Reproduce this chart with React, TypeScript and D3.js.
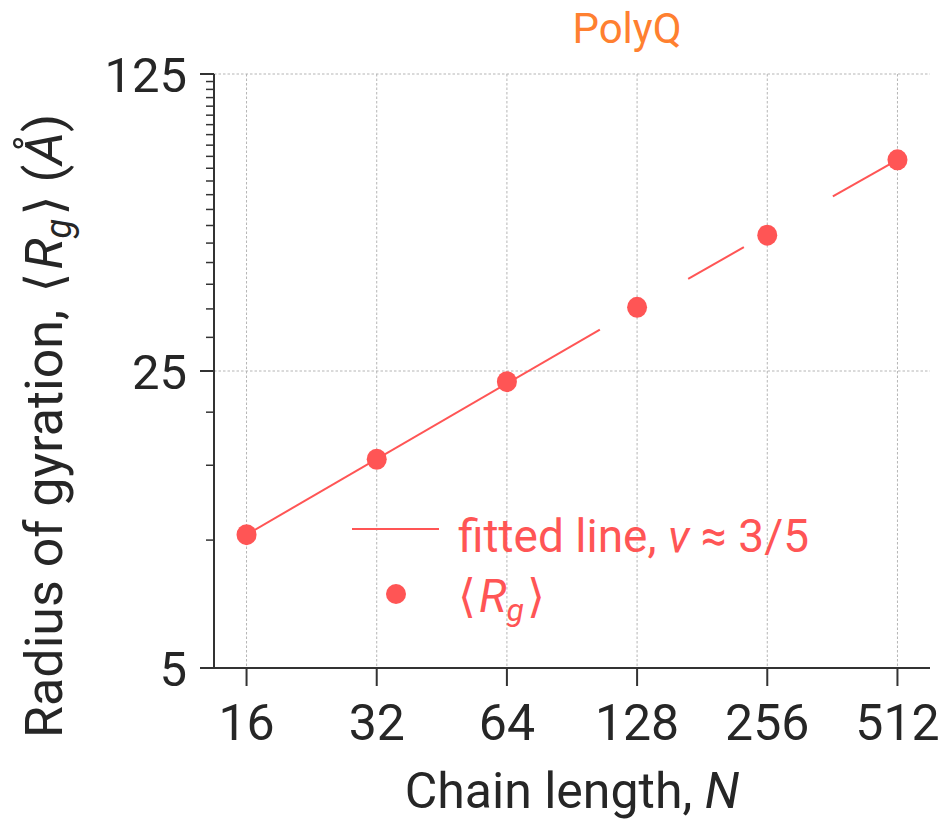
import React from "react";
import * as d3 from "d3";

const chainLengths = [16, 32, 64, 128, 256, 512];
const rgValues = [10.3, 15.5, 23.6, 35.3, 52.2, 78.5];
const fitSegmentN = [[16, 105], [168, 226], [363, 512]];
const fitSegmentRg = [[10.3, 31.3], [41.2, 48.9], [64.4, 78.5]];
const xTicks = [16, 32, 64, 128, 256, 512];
const yMajorTicks = [5, 25, 125];
const yMinorTicks = [10, 15, 20, 30, 35, 40, 45, 50, 55, 60, 65, 70, 75, 80, 85, 90, 95, 100, 105, 110, 115, 120];

const W = 943;
const H = 826;
const left = 214, right = 930, top = 74, bottom = 668;
const red = "#ff5555";
const ink = "#262626";
const font = "Roboto, 'DejaVu Sans', sans-serif";

export default function App() {
  const x = d3.scaleLog().base(2).domain([16 * Math.pow(2, -0.25), 512 * Math.pow(2, 0.25)]).range([left, right]);
  const y = d3.scaleLog().base(5).domain([5, 125]).range([bottom, top]);
  const line = d3.line<[number, number]>().x(d => x(d[0])).y(d => y(d[1]));

  return (
    <svg width={W} height={H} style={{ position: "absolute", left: 0, top: 0, background: "#fff" }} fontFamily={font}>
      {/* grid */}
      {xTicks.map(t => (
        <line key={"gx" + t} x1={x(t)} x2={x(t)} y1={top} y2={bottom} stroke="#b5b5b5" strokeWidth={1} strokeDasharray="2.5,2" />
      ))}
      {yMajorTicks.slice(1).map(t => (
        <line key={"gy" + t} x1={left} x2={right} y1={y(t)} y2={y(t)} stroke="#b5b5b5" strokeWidth={1} strokeDasharray="2.5,2" />
      ))}
      {/* fitted line */}
      {fitSegmentN.map((seg, i) => (
        <path key={"fit" + i} d={line([[seg[0], fitSegmentRg[i][0]], [seg[1], fitSegmentRg[i][1]]])!} stroke={red} strokeWidth={2} fill="none" />
      ))}
      {/* points */}
      {chainLengths.map((n, i) => (
        <ellipse key={"p" + n} cx={x(n)} cy={y(rgValues[i])} rx={10} ry={10.5} fill={red} />
      ))}
      {/* axes */}
      <line x1={left} x2={left} y1={top} y2={bottom} stroke="#333" strokeWidth={2} />
      <line x1={left} x2={right} y1={bottom} y2={bottom} stroke="#333" strokeWidth={2} />
      {yMajorTicks.map(t => (
        <g key={"ym" + t}>
          <line x1={left - 14} x2={left} y1={y(t)} y2={y(t)} stroke="#333" strokeWidth={2} />
          <text x={187} y={y(t) + 18} textAnchor="end" fontSize={49} fill={ink}>{t}</text>
        </g>
      ))}
      {yMinorTicks.map(t => (
        <line key={"yn" + t} x1={left - 8} x2={left} y1={y(t)} y2={y(t)} stroke="#333" strokeWidth={1.5} />
      ))}
      {xTicks.map(t => (
        <g key={"xt" + t}>
          <line x1={x(t)} x2={x(t)} y1={bottom} y2={bottom + 18} stroke="#333" strokeWidth={2} />
          <text x={x(t)} y={740} textAnchor="middle" fontSize={50} fill={ink}>{t}</text>
        </g>
      ))}
      {/* axis labels */}
      <text x={(left + right) / 2} y={808} textAnchor="middle" fontSize={50} fill={ink}>
        Chain length, <tspan fontStyle="italic">N</tspan>
      </text>
      <text transform={`translate(62, 738) rotate(-90)`} textAnchor="start" fontSize={52} fill={ink}>
        Radius of gyration, <tspan dx={4}>⟨</tspan><tspan fontStyle="italic" dx={3}>R</tspan>
        <tspan fontStyle="italic" fontSize={36} dy={9}>g</tspan>
        <tspan dy={-9} dx={3}>⟩</tspan> (<tspan fontStyle="italic">Å</tspan>)
      </text>
      {/* title */}
      <text x={627} y={43} textAnchor="middle" fontSize={42} fill="#ff8030">PolyQ</text>
      {/* legend */}
      <line x1={352} x2={439} y1={529} y2={529} stroke={red} strokeWidth={2} />
      <text x={458} y={552} fontSize={46} fill={red}>
        fitted line, <tspan fontStyle="italic">ν</tspan> ≈ 3/5
      </text>
      <circle cx={396} cy={594} r={10} fill={red} />
      <text x={458} y={612} fontSize={46} fill={red}>
        ⟨<tspan fontStyle="italic" dx={3}>R</tspan>
        <tspan fontStyle="italic" fontSize={32} dy={9}>g</tspan>
        <tspan dy={-9} dx={3}>⟩</tspan>
      </text>
    </svg>
  );
}
